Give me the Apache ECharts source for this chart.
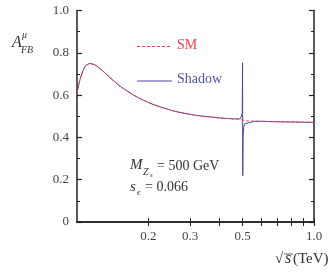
<!DOCTYPE html>
<html><head><meta charset="utf-8">
<script src="https://cdn.jsdelivr.net/npm/echarts@6/dist/echarts.min.js"></script>
<style>html,body{margin:0;padding:0;background:#fff}#c{width:332px;height:273px}</style>
</head><body><div id="c"></div>
<script>
// sqrt(s) in TeV and A_FB values
var smS = [0.100,0.101,0.102,0.103,0.104,0.1055,0.107,0.109,0.111,0.113,0.115,0.118,0.121,0.125,0.130,0.135,0.1393,0.145,0.150,0.157,0.164,0.172,0.182,0.193,0.205,0.218,0.232,0.248,0.267,0.290,0.3145,0.340,0.3697,0.400,0.435,0.460,0.480,0.500,0.520,0.560,0.600,0.700,0.800,0.900,1.000];
var smA = [0.607,0.633,0.655,0.674,0.690,0.710,0.726,0.740,0.747,0.750,0.749,0.745,0.738,0.726,0.709,0.692,0.678,0.661,0.647,0.631,0.617,0.602,0.587,0.573,0.560,0.549,0.539,0.529,0.520,0.512,0.505,0.500,0.496,0.492,0.489,0.4875,0.486,0.482,0.478,0.477,0.476,0.474,0.473,0.472,0.471];
var shS = [0.100,0.101,0.102,0.103,0.104,0.1055,0.107,0.109,0.111,0.113,0.115,0.118,0.121,0.125,0.130,0.135,0.1393,0.145,0.150,0.157,0.164,0.172,0.182,0.193,0.205,0.218,0.232,0.248,0.267,0.290,0.3145,0.340,0.3697,0.400,0.435,0.460,0.480,0.490,0.495,0.498,0.4995,0.5005,0.502,0.505,0.510,0.520,0.560,0.600,0.700,0.800,0.900,1.000];
var shA = [0.607,0.633,0.655,0.674,0.690,0.710,0.726,0.740,0.747,0.750,0.749,0.745,0.738,0.726,0.709,0.692,0.678,0.661,0.647,0.631,0.617,0.602,0.587,0.573,0.560,0.549,0.539,0.529,0.520,0.512,0.505,0.500,0.496,0.492,0.489,0.4875,0.487,0.489,0.494,0.515,0.753,0.219,0.400,0.448,0.464,0.472,0.476,0.476,0.474,0.473,0.472,0.471];
var xLabels = [0.2,0.3,0.5,1.0];
var xTicks = [0.2,0.3,0.4,0.5,0.6,0.7,0.8,0.9,1.0];
var legendNames = ['SM','Shadow'];

var RED = '#ee3f4f', BLUE = '#4545a5';
var FONT = '"Liberation Serif","DejaVu Serif",serif';
function pairs(a,b){return a.map(function(v,i){return [v,b[i]];});}

var chart = echarts.init(document.getElementById('c'), null, {renderer:'canvas'});
var axisLine = {lineStyle:{color:'#222',width:1.5}};
function xAx(pos, showLab){
  return {type:'log', logBase:10, min:0.1, max:1.0, position:pos,
    axisLine:axisLine,
    axisTick:{show:true, inside:true, length:4, customValues:xTicks, lineStyle:{color:'#222',width:1}},
    axisLabel:{show:showLab, customValues:xLabels, margin:8, color:'#444', fontFamily:FONT, fontSize:13,
      formatter:function(v){return Number(v).toFixed(1);}},
    splitLine:{show:false}, minorTick:{show:false}};
}
function yAx(pos, showLab){
  return {type:'value', min:0, max:1, interval:0.2, position:pos,
    axisLine:axisLine,
    axisTick:{show:true, inside:true, length:5, lineStyle:{color:'#222',width:1.2}},
    minorTick:{show:true, splitNumber:2, length:3, lineStyle:{color:'#222',width:1}},
    axisLabel:{show:showLab, margin:8, color:'#444', fontFamily:FONT, fontSize:13,
      formatter:function(v){return v===0?'0':v.toFixed(1);}},
    splitLine:{show:false}};
}
var T = function(x,y,txt,size,italic,color){
  return {type:'text', left:x, top:y, style:{text:txt, font:(italic?'italic ':'')+size+'px '+FONT, fill:color||'#333'}};
};
chart.setOption({
  animation:false,
  grid:{left:77, right:18, top:10.5, bottom:51},
  xAxis:[xAx('bottom',true), xAx('top',false)],
  yAxis:[yAx('left',true), yAx('right',false)],
  series:[
    {name:legendNames[0], type:'line', data:pairs(smS,smA), symbol:'none',
      lineStyle:{color:RED, width:1, type:[3,2]}, z:3},
    {name:legendNames[1], type:'line', data:pairs(shS,shA), symbol:'none',
      lineStyle:{color:BLUE, width:1}, z:2}
  ],
  graphic:[
    {type:'line', shape:{x1:137,y1:46.5,x2:172,y2:46.5}, style:{stroke:RED,lineWidth:1,lineDash:[3,2]}},
    T(177,38,legendNames[0],14,false,RED),
    {type:'line', shape:{x1:137,y1:81,x2:172,y2:81}, style:{stroke:BLUE,lineWidth:1}},
    T(177,72,legendNames[1],14,false,'#5050aa'),
    T(12,35,'A',16,true),
    T(22,30,'μ',10,true),
    T(21,45,'FB',10,true),
    T(130,158,'M',15,true),
    T(143,167,'Z',10,true),
    T(150,172,'s',7,true),
    T(157,159,'= 500 GeV',14,false),
    T(130,180,'s',15,true),
    T(137,188,'ϵ',9,true),
    T(145,180,'= 0.066',14,false),
    T(275,252,'√',15,false),
    T(285,251,'s',16,true),
    {type:'line', shape:{x1:284,y1:254,x2:293,y2:254}, style:{stroke:'#333',lineWidth:0.8}},
    T(293,252,'(TeV)',15,false)
  ]
});
</script></body></html>
